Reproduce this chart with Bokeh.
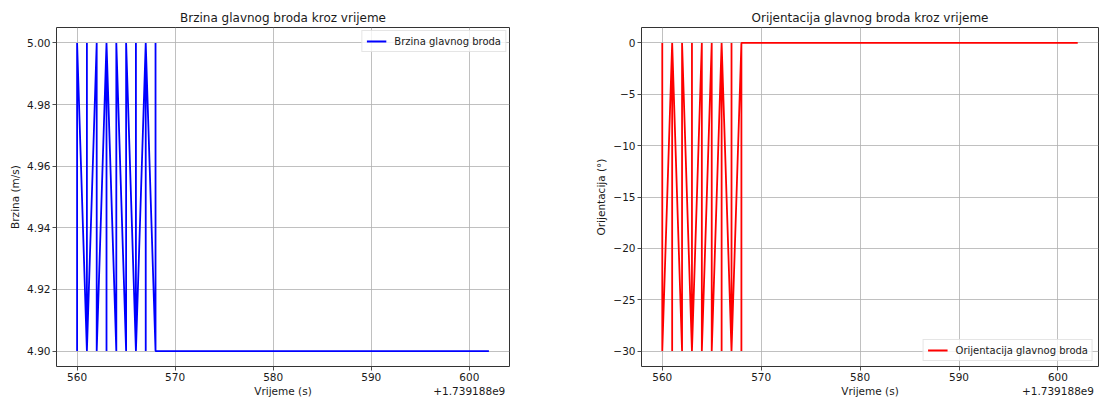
from bokeh.plotting import figure
from bokeh.layouts import row
from bokeh.models import FixedTicker, Legend, LegendItem, LinearAxis, NumeralTickFormatter
from bokeh.embed import file_html
from bokeh.resources import INLINE

# ---------------- data ----------------
TIME_OFFSET_LABEL = "+1.739188e9"
OFFSET_LABEL_AT = 600

time_s = [560, 560,
          561, 561, 561,
          562, 562,
          563, 563, 563,
          564, 564,
          565, 565,
          566, 566, 566,
          567, 567, 567,
          568, 568, 568,
          569, 570, 571, 572, 573, 574, 575, 576, 577, 578, 579, 580,
          581, 582, 583, 584, 585, 586, 587, 588, 589, 590, 591, 592,
          593, 594, 595, 596, 597, 598, 599, 600, 601, 602]

speed = [4.90, 5.00,
         4.90, 5.00, 4.90,
         5.00, 4.90,
         5.00, 4.90, 5.00,
         4.90, 5.00,
         4.90, 5.00,
         4.90, 5.00, 4.90,
         5.00, 4.90, 5.00,
         4.90, 5.00, 4.90,
         4.90, 4.90, 4.90, 4.90, 4.90, 4.90, 4.90, 4.90, 4.90, 4.90, 4.90, 4.90,
         4.90, 4.90, 4.90, 4.90, 4.90, 4.90, 4.90, 4.90, 4.90, 4.90, 4.90, 4.90,
         4.90, 4.90, 4.90, 4.90, 4.90, 4.90, 4.90, 4.90, 4.90, 4.90]

orientation = [0, -30,
               0, -30, 0,
               -30, 0,
               -30, 0, -30,
               0, -30,
               0, -30,
               0, -30, 0,
               -30, 0, -30,
               0, -30, 0,
               0, 0, 0, 0, 0, 0, 0, 0, 0, 0, 0, 0,
               0, 0, 0, 0, 0, 0, 0, 0, 0, 0, 0, 0,
               0, 0, 0, 0, 0, 0, 0, 0, 0, 0]

x_ticks = [560, 570, 580, 590, 600]
speed_ticks = [4.90, 4.92, 4.94, 4.96, 4.98, 5.00]
orient_ticks = [-30, -25, -20, -15, -10, -5, 0]
orient_tick_labels = ["\u221230", "\u221225", "\u221220", "\u221215", "\u221210", "\u22125", "0"]

FONT = "DejaVu Sans"
TXT = "#1a1a1a"
TICK_FS = "10.5px"


def pad_range(vals, frac=0.05):
    lo, hi = min(vals), max(vals)
    d = (hi - lo) * frac
    return (lo - d, hi + d)


def text_axis(ax):
    ax.axis_label_text_font = FONT
    ax.axis_label_text_font_size = TICK_FS
    ax.axis_label_text_font_style = "normal"
    ax.axis_label_text_color = TXT
    ax.major_label_text_font = FONT
    ax.major_label_text_font_size = TICK_FS
    ax.major_label_text_color = TXT
    ax.axis_line_color = None
    ax.minor_tick_line_color = None


def style(p, xlabel, ylabel, xr):
    p.title.text_font = FONT
    p.title.text_font_size = "12px"
    p.title.text_font_style = "normal"
    p.title.text_color = TXT
    p.title.align = "center"
    p.title.standoff = 5
    for ax in (p.xaxis[0], p.yaxis[0]):
        text_axis(ax)
        ax.major_tick_line_color = "#222222"
        ax.major_tick_line_width = 0.8
        ax.major_tick_out = 4
        ax.major_tick_in = 0
        ax.major_label_standoff = 2
        ax.axis_label_standoff = 3
    p.yaxis[0].axis_label = ylabel
    p.xaxis[0].ticker = FixedTicker(ticks=x_ticks)
    # second row under the x axis: axis title (centred) and offset text
    mid = round((xr[0] + xr[1]) / 2, 6)
    ax2 = LinearAxis(ticker=FixedTicker(ticks=[mid, OFFSET_LABEL_AT]),
                     major_label_overrides={mid: xlabel, OFFSET_LABEL_AT: TIME_OFFSET_LABEL})
    text_axis(ax2)
    ax2.major_tick_line_color = None
    ax2.major_tick_out = 0
    ax2.major_tick_in = 0
    ax2.major_label_standoff = 1
    p.add_layout(ax2, "below")
    p.grid.grid_line_color = "#b0b0b0"
    p.grid.grid_line_width = 0.8
    p.outline_line_color = "#333333"
    p.outline_line_width = 1
    p.background_fill_color = "white"
    p.border_fill_color = "white"


def style_legend(lg):
    lg.label_text_font = FONT
    lg.label_text_font_size = "10px"
    lg.label_text_color = TXT
    lg.border_line_color = "#cccccc"
    lg.border_line_width = 1
    lg.background_fill_alpha = 0.8
    lg.glyph_width = 20
    lg.glyph_height = 12
    lg.padding = 4
    lg.spacing = 0
    lg.margin = 5
    lg.label_standoff = 8
    lg.label_height = 12


xr = pad_range(time_s)

# ---------------- left: speed ----------------
p1 = figure(width=560, height=401, x_range=xr, y_range=pad_range(speed),
            title="Brzina glavnog broda kroz vrijeme",
            output_backend="svg", toolbar_location=None,
            min_border_left=56, min_border_right=51,
            min_border_top=27, min_border_bottom=35)
r1 = p1.line(time_s, speed, line_color="blue", line_width=1.8)
style(p1, "Vrijeme (s)", "Brzina (m/s)", xr)
p1.yaxis[0].ticker = FixedTicker(ticks=speed_ticks)
p1.yaxis[0].formatter = NumeralTickFormatter(format="0.00")
lg1 = Legend(items=[LegendItem(label="Brzina glavnog broda", renderers=[r1])],
             location="top_right")
style_legend(lg1)
lg1.margin = 3
p1.add_layout(lg1)

# ---------------- right: orientation ----------------
p2 = figure(width=540, height=401, x_range=xr, y_range=pad_range(orientation),
            title="Orijentacija glavnog broda kroz vrijeme",
            output_backend="svg", toolbar_location=None,
            min_border_left=81, min_border_right=2,
            min_border_top=27, min_border_bottom=35)
r2 = p2.line(time_s, orientation, line_color="red", line_width=1.8)
style(p2, "Vrijeme (s)", "Orijentacija (\u00b0)", xr)
p2.yaxis[0].ticker = FixedTicker(ticks=orient_ticks)
p2.yaxis[0].major_label_overrides = {t: l for t, l in zip(orient_ticks, orient_tick_labels)}
lg2 = Legend(items=[LegendItem(label="Orijentacija glavnog broda", renderers=[r2])],
             location="bottom_right")
style_legend(lg2)
p2.add_layout(lg2)

layout = row(p1, p2)
open("out.html", "w").write(file_html(layout, INLINE))
